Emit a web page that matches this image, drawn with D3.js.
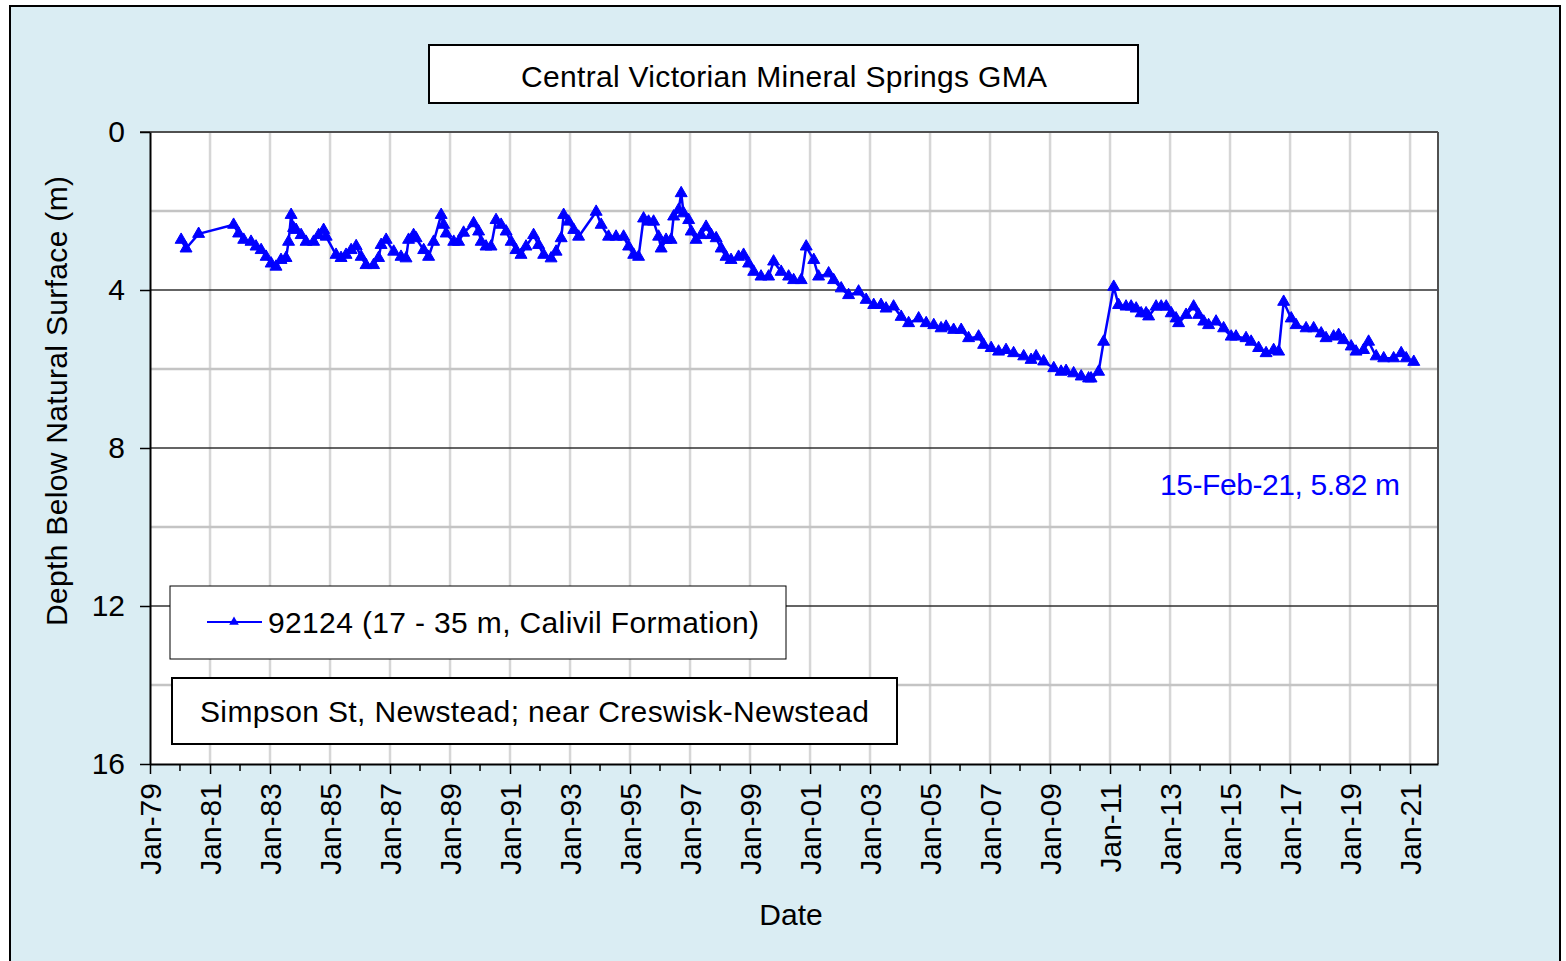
<!DOCTYPE html>
<html>
<head>
<meta charset="utf-8">
<script src="https://d3js.org/d3.v7.min.js"></script>
<style>
    body { margin: 0; background: #fff; }
    svg { display: block; }
    text { font-family: "Liberation Sans", Arial, sans-serif; fill: #000; }
</style>
</head>
<body>
<div id="graph"></div>
<script>
// bore 92124 readings (date, depth below natural surface in m)
var dates = [
    "1980-01-15","1980-03-15","1980-08-15","1981-10-15","1981-12-15","1982-02-15","1982-05-15","1982-07-15",
    "1982-09-15","1982-11-15","1983-01-15","1983-03-15","1983-05-15","1983-07-15","1983-08-15","1983-09-15",
    "1983-10-15","1983-11-15","1984-01-15","1984-03-15","1984-06-15","1984-08-15","1984-10-15","1984-11-15",
    "1985-03-15","1985-05-15","1985-07-15","1985-09-15","1985-11-15","1986-01-15","1986-03-15","1986-06-15",
    "1986-08-15","1986-09-15","1986-11-15","1987-02-15","1987-05-15","1987-07-15","1987-08-15","1987-10-15",
    "1987-11-15","1988-02-15","1988-04-15","1988-06-15","1988-09-15","1988-10-15","1988-11-15","1989-02-15",
    "1989-04-15","1989-06-15","1989-10-15","1989-12-15","1990-01-15","1990-03-15","1990-05-15","1990-07-15",
    "1990-09-15","1990-11-15","1991-01-15","1991-03-15","1991-05-15","1991-07-15","1991-10-15","1991-12-15",
    "1992-02-15","1992-05-15","1992-07-15","1992-09-15","1992-10-15","1992-12-15","1993-02-15","1993-04-15",
    "1993-11-15","1994-01-15","1994-04-15","1994-07-15","1994-10-15","1994-12-15","1995-02-15","1995-04-15",
    "1995-06-15","1995-08-15","1995-10-15","1995-12-15","1996-01-15","1996-03-15","1996-05-15","1996-06-15",
    "1996-08-15","1996-09-15","1996-10-15","1996-12-15","1997-01-15","1997-03-15","1997-05-15","1997-07-15",
    "1997-09-15","1997-11-15","1998-01-15","1998-03-15","1998-05-15","1998-08-15","1998-10-15","1998-12-15",
    "1999-02-15","1999-05-15","1999-08-15","1999-10-15","2000-01-15","2000-04-15","2000-06-15","2000-09-15",
    "2000-11-15","2001-02-15","2001-04-15","2001-08-15","2001-10-15","2002-01-15","2002-04-15","2002-08-15",
    "2002-11-15","2003-02-15","2003-05-15","2003-07-15","2003-10-15","2004-01-15","2004-04-15","2004-08-15",
    "2004-11-15","2005-02-15","2005-05-15","2005-07-15","2005-10-15","2006-01-15","2006-04-15","2006-08-15",
    "2006-10-15","2007-01-15","2007-04-15","2007-07-15","2007-10-15","2008-02-15","2008-05-15","2008-07-15",
    "2008-10-15","2009-02-15","2009-05-15","2009-07-15","2009-10-15","2010-01-15","2010-04-15","2010-05-15",
    "2010-08-15","2010-10-15","2011-02-15","2011-04-15","2011-07-15","2011-09-15","2011-11-15","2012-01-15",
    "2012-03-15","2012-04-15","2012-07-15","2012-09-15","2012-11-15","2013-01-15","2013-03-15","2013-04-15",
    "2013-07-15","2013-10-15","2013-12-15","2014-02-15","2014-04-15","2014-07-15","2014-10-15","2015-01-15",
    "2015-03-15","2015-07-15","2015-09-15","2015-12-15","2016-03-15","2016-06-15","2016-08-15","2016-10-15",
    "2017-01-15","2017-03-15","2017-07-15","2017-10-15","2018-01-15","2018-03-15","2018-06-15","2018-08-15",
    "2018-10-15","2019-01-15","2019-03-15","2019-06-15","2019-08-15","2019-11-15","2020-02-15","2020-06-15",
    "2020-09-15","2020-11-15","2021-02-15"
];
var depths = [
    2.73,2.95,2.58,2.35,2.57,2.73,2.78,2.90,
    2.99,3.16,3.33,3.41,3.24,3.19,2.78,2.10,
    2.43,2.48,2.61,2.78,2.78,2.61,2.48,2.65,
    3.11,3.19,3.11,2.99,2.89,3.16,3.37,3.37,
    3.19,2.86,2.73,3.03,3.16,3.20,2.73,2.61,
    2.69,2.99,3.16,2.78,2.10,2.35,2.57,2.78,
    2.78,2.55,2.31,2.52,2.78,2.90,2.90,2.23,
    2.35,2.52,2.78,2.99,3.11,2.90,2.61,2.86,
    3.11,3.20,3.03,2.69,2.10,2.27,2.48,2.65,
    2.02,2.35,2.65,2.65,2.65,2.90,3.11,3.16,
    2.19,2.27,2.27,2.65,2.95,2.73,2.73,2.14,
    1.97,1.55,2.06,2.23,2.52,2.73,2.61,2.40,
    2.61,2.69,2.95,3.16,3.24,3.16,3.11,3.33,
    3.54,3.66,3.66,3.28,3.54,3.66,3.75,3.75,
    2.90,3.24,3.66,3.58,3.75,3.96,4.13,4.04,
    4.25,4.38,4.38,4.47,4.42,4.68,4.84,4.72,
    4.84,4.89,4.97,4.93,5.01,5.01,5.22,5.18,
    5.39,5.47,5.56,5.52,5.60,5.68,5.77,5.68,
    5.81,5.98,6.07,6.05,6.11,6.19,6.24,6.24,
    6.07,5.31,3.92,4.38,4.42,4.42,4.47,4.59,
    4.59,4.67,4.42,4.42,4.42,4.59,4.72,4.84,
    4.63,4.42,4.63,4.80,4.89,4.80,4.97,5.18,
    5.18,5.22,5.31,5.47,5.60,5.52,5.56,4.30,
    4.72,4.89,4.97,4.97,5.10,5.22,5.18,5.14,
    5.27,5.43,5.56,5.52,5.31,5.68,5.73,5.73,
    5.60,5.73,5.82
];
var tickYears = d3.range(1979, 2022, 2);
var minorYears = d3.range(1979, 2022, 1);
var depthTicks = [0, 4, 8, 12, 16];
var depthMinor = [2, 6, 10, 14];

var titre = "Central Victorian Mineral Springs GMA",
    legende = "92124 (17 - 35 m, Calivil Formation)",
    lieu = "Simpson St, Newstead; near Creswisk-Newstead",
    dernier = "15-Feb-21, 5.82 m";

function dessin() {
    var W = 1566, H = 961,
        left = 150, right = 1438, top = 132, bottom = 764,
        bleu = "#0000ff",
        fond = "#daedf3",
        parse = d3.timeParse("%Y-%m-%d"),
        donnees = dates.map(function (d, i) { return {date: parse(d), depth: depths[i]}; }),

        svg = d3.select("#graph")
            .append("svg")
                .attr("width", W)
                .attr("height", H),

        x = d3.scaleTime()
            .domain([new Date(1979, 0, 1), new Date(2021, 11, 7)])
            .range([left, right]),

        y = d3.scaleLinear()
            .domain([0, 16])
            .range([top, bottom]);

    // frame
    svg.append("rect")
        .attr("x", 10).attr("y", 6)
        .attr("width", 1550).attr("height", 970)
        .style("fill", fond)
        .style("stroke", "#000")
        .style("stroke-width", 2);

    // plot area
    svg.append("rect")
        .attr("x", left).attr("y", top)
        .attr("width", right - left).attr("height", bottom - top)
        .style("fill", "#fff");

    // grid
    svg.selectAll(".vgrid")
        .data(tickYears.slice(1))
        .enter()
        .append("line")
        .attr("x1", function (d) { return x(new Date(d, 0, 1)); })
        .attr("x2", function (d) { return x(new Date(d, 0, 1)); })
        .attr("y1", top)
        .attr("y2", bottom)
        .style("stroke", "#d6d6d6")
        .style("stroke-width", 2.5);
    svg.selectAll(".hgrid")
        .data(depthMinor)
        .enter()
        .append("line")
        .attr("x1", left).attr("x2", right)
        .attr("y1", function (d) { return y(d); })
        .attr("y2", function (d) { return y(d); })
        .style("stroke", "#c4c4c4")
        .style("stroke-width", 2.5);
    svg.selectAll(".hmajor")
        .data([4, 8, 12])
        .enter()
        .append("line")
        .attr("x1", left).attr("x2", right)
        .attr("y1", function (d) { return y(d); })
        .attr("y2", function (d) { return y(d); })
        .style("stroke", "#303030")
        .style("stroke-width", 1.5);
    svg.append("line")
        .attr("x1", left - 10).attr("x2", right)
        .attr("y1", top).attr("y2", top)
        .style("stroke", "#505050")
        .style("stroke-width", 2);
    svg.append("line")
        .attr("x1", right).attr("x2", right)
        .attr("y1", top).attr("y2", bottom)
        .style("stroke", "#505050")
        .style("stroke-width", 2);

    // x axis
    var ax = svg.append("g")
        .attr("transform", "translate(0," + bottom + ")")
        .call(d3.axisBottom(x)
            .tickValues(tickYears.map(function (d) { return new Date(d, 0, 1); }))
            .tickFormat(d3.timeFormat("%b-%y"))
            .tickSize(10)
            .tickSizeOuter(0));
    ax.select(".domain").style("stroke", "#000").style("stroke-width", 2);
    ax.selectAll(".tick line").style("stroke", "#000").style("stroke-width", 1.5);
    ax.selectAll(".tick text")
        .attr("transform", "rotate(-90)")
        .attr("x", -19)
        .attr("y", 0)
        .attr("dy", "0.35em")
        .style("text-anchor", "end")
        .style("font-size", "30px")
        .style("font-family", "'Liberation Sans', Arial, sans-serif");
    svg.selectAll(".minor")
        .data(minorYears.filter(function (d) { return (d - 1979) % 2 === 1; }))
        .enter()
        .append("line")
        .attr("x1", function (d) { return x(new Date(d, 0, 1)); })
        .attr("x2", function (d) { return x(new Date(d, 0, 1)); })
        .attr("y1", bottom)
        .attr("y2", bottom + 7)
        .style("stroke", "#000")
        .style("stroke-width", 1.5);

    // y axis
    var ay = svg.append("g")
        .attr("transform", "translate(" + left + ",0)")
        .call(d3.axisLeft(y)
            .tickValues(depthTicks)
            .tickSize(10)
            .tickPadding(15)
            .tickSizeOuter(0));
    ay.select(".domain").style("stroke", "#000").style("stroke-width", 2);
    ay.selectAll(".tick line").style("stroke", "#000").style("stroke-width", 1.5);
    ay.selectAll(".tick text")
        .style("font-size", "30px")
        .style("font-family", "'Liberation Sans', Arial, sans-serif");

    // axis titles
    svg.append("text")
        .attr("x", 791).attr("y", 914)
        .attr("dy", "0.35em")
        .style("text-anchor", "middle")
        .style("font-size", "30px")
        .text("Date");
    svg.append("text")
        .attr("transform", "translate(56,401) rotate(-90)")
        .attr("dy", "0.35em")
        .style("text-anchor", "middle")
        .style("font-size", "30px")
        .attr("textLength", 450)
        .text("Depth Below Natural Surface (m)");

    // series
    svg.append("path")
        .datum(donnees)
        .attr("fill", "none")
        .attr("stroke", bleu)
        .attr("stroke-width", 2.5)
        .attr("stroke-linejoin", "round")
        .attr("d", d3.line()
            .x(function (d) { return x(d.date); })
            .y(function (d) { return y(d.depth); })
            );
    svg.selectAll(".point")
        .data(donnees)
        .enter()
        .append("path")
        .attr("transform", function (d) { return "translate(" + x(d.date) + "," + y(d.depth) + ")"; })
        .attr("d", d3.symbol(d3.symbolTriangle, 62))
        .style("fill", bleu)
        .style("stroke", bleu)
        .style("stroke-width", 1);

    // title box
    svg.append("rect")
        .attr("x", 429).attr("y", 45)
        .attr("width", 709).attr("height", 58)
        .style("fill", "#fff").style("stroke", "#000").style("stroke-width", 2);
    svg.append("text")
        .attr("x", 784).attr("y", 76)
        .attr("dy", "0.35em")
        .style("text-anchor", "middle")
        .style("font-size", "30px")
        .attr("textLength", 526)
        .text(titre);

    // legend
    svg.append("rect")
        .attr("x", 170).attr("y", 586)
        .attr("width", 616).attr("height", 73)
        .style("fill", "#fff").style("stroke", "#000").style("stroke-width", 1);
    svg.append("line")
        .attr("x1", 207).attr("x2", 262)
        .attr("y1", 622).attr("y2", 622)
        .style("stroke", bleu).style("stroke-width", 2);
    svg.append("path")
        .attr("transform", "translate(234,622)")
        .attr("d", d3.symbol(d3.symbolTriangle, 40))
        .style("fill", bleu);
    svg.append("text")
        .attr("x", 268).attr("y", 622)
        .attr("dy", "0.35em")
        .style("font-size", "30px")
        .attr("textLength", 491)
        .text(legende);

    // location box
    svg.append("rect")
        .attr("x", 172).attr("y", 678)
        .attr("width", 725).attr("height", 66)
        .style("fill", "#fff").style("stroke", "#000").style("stroke-width", 2);
    svg.append("text")
        .attr("x", 200).attr("y", 711)
        .attr("dy", "0.35em")
        .style("font-size", "30px")
        .attr("textLength", 669)
        .text(lieu);

    // last reading
    svg.append("text")
        .attr("x", 1400).attr("y", 484)
        .attr("dy", "0.35em")
        .style("text-anchor", "end")
        .style("font-size", "30px")
        .attr("textLength", 240)
        .style("fill", bleu)
        .text(dernier);
}

dessin();
</script>
</body>
</html>
